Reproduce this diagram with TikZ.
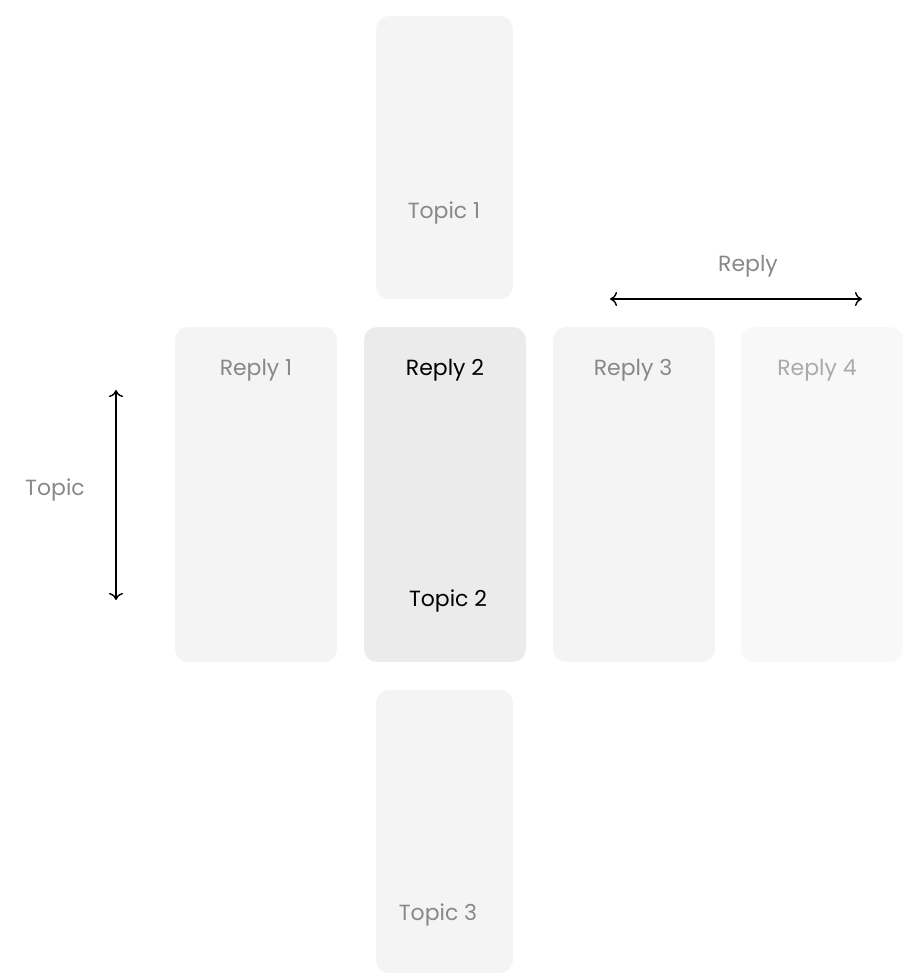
\documentclass[tikz,border=0pt]{standalone}
\usepackage{fontspec}
\setmainfont{Poppins}
\usetikzlibrary{arrows.meta}
\definecolor{cardgray}{HTML}{F4F4F4}
\definecolor{cardmid}{HTML}{EBEBEB}
\definecolor{cardpale}{HTML}{F8F8F8}
\definecolor{textgray}{HTML}{888888}
\definecolor{textpale}{HTML}{AAAAAA}
\tikzset{
	card/.style={fill=cardgray, rounded corners=0.26cm, inner sep=0pt},
	label/.style={font=\fontsize{12.5}{14}\selectfont, text=textgray},
	span/.style={thick, {To[length=4pt,width=8pt]}-{To[length=4pt,width=8pt]}}
}
\begin{document}
\begin{tikzpicture}[x=0.02cm,y=-0.02cm]
	\useasboundingbox (0,0) rectangle (920,980);

	\node[card, minimum width=2.74cm, minimum height=5.66cm] (t1) at (444.5,157.5) {};
	\node[card, minimum width=3.24cm, minimum height=6.7cm] (r1) at (256,494.5) {};
	\node[card, fill=cardmid, minimum width=3.24cm, minimum height=6.7cm] (r2) at (445,494.5) {};
	\node[card, minimum width=3.24cm, minimum height=6.7cm] (r3) at (634,494.5) {};
	\node[card, fill=cardpale, minimum width=3.24cm, minimum height=6.7cm] (r4) at (822,494.5) {};
	\node[card, minimum width=2.74cm, minimum height=5.66cm] (t3) at (444.5,831.5) {};

	\node[label] (lt1) at (444,213) {Topic 1};
	\node[label] (lr1) at (256,370) {Reply 1};
	\node[label, text=black] (lr2) at (445,370) {Reply 2};
	\node[label] (lr3) at (633,370) {Reply 3};
	\node[label, text=textpale] (lr4) at (817,370) {Reply 4};
	\node[label, text=black] (lt2) at (448,601) {Topic 2};
	\node[label] (lt3) at (438,915) {Topic 3};

	\node[label] (topic) at (55,490) {Topic};
	\coordinate (ta) at (116,390); \coordinate (tb) at (116,600);
	\draw [span] (ta) -- (tb);

	\node[label] (reply) at (748,266) {Reply};
	\coordinate (ra) at (610,299); \coordinate (rb) at (862,299);
	\draw [span] (ra) -- (rb);
\end{tikzpicture}
\end{document}
